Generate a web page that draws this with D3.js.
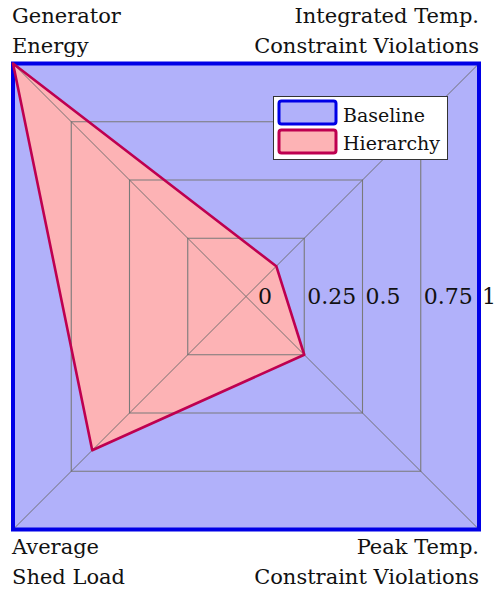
<!DOCTYPE html>
<html>
<head>
<meta charset="utf-8">
<script src="https://cdn.jsdelivr.net/npm/d3@7"></script>
<style>
  html, body { margin: 0; padding: 0; background: #fff; }
  svg { display: block; }
</style>
</head>
<body>
<svg id="chart" width="496" height="594"></svg>
<script>
// Radar axes, clockwise from the top-left corner
const axes = ["Generator Energy", "Integrated Temp. Constraint Violations",
              "Peak Temp. Constraint Violations", "Average Shed Load"];
const axisLabelLines = [
  ["Generator", "Energy"],
  ["Integrated Temp.", "Constraint Violations"],
  ["Peak Temp.", "Constraint Violations"],
  ["Average", "Shed Load"]
];
const seriesNames = ["Baseline", "Hierarchy"];
const baselineValues = [1, 1, 1, 1];
const hierarchyValues = [1, 0.13, 0.25, 0.66];
const gridLevels = [0.25, 0.5, 0.75, 1];
const tickValues = [0, 0.25, 0.5, 0.75, 1];
const tickLabels = ["0", "0.25", "0.5", "0.75", "1"];

const serif = "'DejaVu Serif', serif";
const svg = d3.select("#chart");
const cx = 246, cy = 296.5, half = 233;

// value -> half-side of the square; points sit on the diagonals
const r = d3.scaleLinear().domain([0, 1]).range([0, half]);
const angles = [-Math.PI / 4, Math.PI / 4, 3 * Math.PI / 4, 5 * Math.PI / 4];

const radial = d3.lineRadial()
  .angle((d, i) => angles[i])
  .radius(d => r(d) * Math.SQRT2)
  .curve(d3.curveLinearClosed);

const g = svg.append("g").attr("transform", `translate(${cx},${cy})`);

// fills
g.append("path").attr("d", radial(baselineValues))
  .attr("fill", "#b1b1fa").attr("stroke", "none");
g.append("path").attr("d", radial(hierarchyValues))
  .attr("fill", "#fdb3b5").attr("stroke", "none");

// grid squares
g.selectAll("path.grid").data(gridLevels).join("path")
  .attr("class", "grid")
  .attr("d", lv => radial(axes.map(() => lv)))
  .attr("fill", "none").attr("stroke", "#7a7a7a").attr("stroke-width", 1.1);

// spokes to the corners
g.selectAll("line.spoke").data(angles).join("line")
  .attr("class", "spoke")
  .attr("x1", 0).attr("y1", 0)
  .attr("x2", a => r(1) * Math.SQRT2 * Math.sin(a))
  .attr("y2", a => -r(1) * Math.SQRT2 * Math.cos(a))
  .attr("stroke", "#6a6a6a").attr("stroke-width", 0.9);

// outlines
g.append("path").attr("d", radial(baselineValues))
  .attr("fill", "none").attr("stroke", "#0000e6").attr("stroke-width", 4)
  .attr("stroke-linejoin", "miter");
g.append("path").attr("d", radial(hierarchyValues))
  .attr("fill", "none").attr("stroke", "#be0050").attr("stroke-width", 2.6)
  .attr("stroke-linejoin", "round");

// tick labels along the horizontal to the right of the centre
g.selectAll("text.tick").data(tickValues).join("text")
  .attr("class", "tick")
  .attr("x", (v, i) => r(v) + (v === 0 ? 12 : 3))
  .attr("y", 7)
  .attr("font-family", serif)
  .attr("font-size", 22)
  .attr("fill", "#111")
  .text((v, i) => tickLabels[i]);

// axis labels outside the corners
const labelPos = [
  { x: 12, y: 23, anchor: "start" },
  { x: 479, y: 23, anchor: "end" },
  { x: 479, y: 554, anchor: "end" },
  { x: 12, y: 554, anchor: "start" }
];
axisLabelLines.forEach((lines, i) => {
  const t = svg.append("text")
    .attr("x", labelPos[i].x).attr("y", labelPos[i].y)
    .attr("text-anchor", labelPos[i].anchor)
    .attr("font-family", serif)
    .attr("font-size", 21)
    .attr("fill", "#111");
  lines.forEach((ln, j) => {
    t.append("tspan").attr("x", labelPos[i].x).attr("dy", j === 0 ? 0 : 30).text(ln);
  });
});

// legend
const legend = svg.append("g").attr("transform", "translate(273,96)");
legend.append("rect").attr("x", 0.5).attr("y", 0.5).attr("width", 174).attr("height", 63)
  .attr("fill", "#fff").attr("stroke", "#333").attr("stroke-width", 1);
const legendFill = ["#b1b1fa", "#fdb3b5"];
const legendStroke = ["#0000e6", "#be0050"];
seriesNames.forEach((name, i) => {
  legend.append("rect")
    .attr("x", 6).attr("y", 5 + i * 29).attr("width", 57).attr("height", 23)
    .attr("rx", 2.5)
    .attr("fill", legendFill[i]).attr("stroke", legendStroke[i]).attr("stroke-width", 3);
  legend.append("text")
    .attr("x", 70).attr("y", 26 + i * 28)
    .attr("font-family", serif)
    .attr("font-size", 19)
    .attr("fill", "#111")
    .text(name);
});
</script>
</body>
</html>
